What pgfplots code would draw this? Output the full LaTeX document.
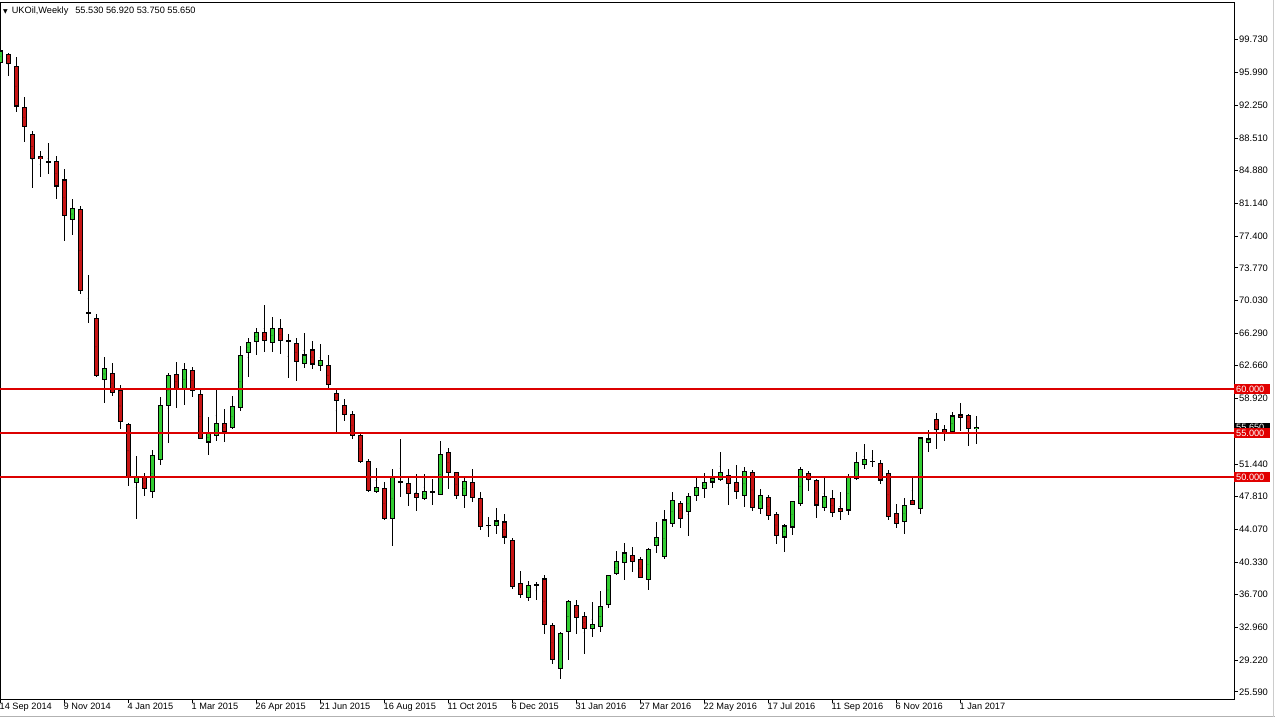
\documentclass[border=0pt]{standalone}
\usepackage{pgfplots}
\pgfplotsset{compat=1.18}
\usepackage{pgfplotstable}
\usepackage{fontspec}
\setmainfont{Liberation Sans}
\newfontfamily\symfont{DejaVu Sans}
\definecolor{bullc}{RGB}{50,205,50}
\definecolor{bearc}{RGB}{200,20,20}
\definecolor{lvl}{RGB}{220,0,0}
\definecolor{lvlbox}{RGB}{225,0,0}

\pgfplotstableread{
k o h l c
-1 97.15 98.60 96.90 98.40
8 79.25 81.64 77.52 80.52
12 61.05 63.67 58.42 62.36
16 49.37 52.44 45.25 49.93
18 48.39 53.11 47.57 52.44
19 51.99 59.10 51.39 58.13
20 58.13 61.79 53.86 61.50
22 60.04 62.92 58.13 62.18
25 53.98 56.85 52.47 55.05
26 54.76 59.85 54.04 56.11
28 55.66 59.26 55.44 58.02
29 57.91 64.91 57.46 63.75
30 64.20 65.84 61.35 65.32
31 65.43 66.89 63.82 66.44
33 65.28 68.16 64.15 66.89
37 62.92 66.40 62.40 63.86
39 62.63 65.16 62.02 63.22
46 48.31 51.06 48.17 48.76
48 45.25 50.94 42.18 49.93
52 47.57 50.30 47.38 48.39
54 48.02 54.12 48.00 52.55
57 47.91 50.00 46.45 49.48
61 44.50 46.45 43.48 44.99
65 36.34 38.14 35.96 37.69
69 28.21 32.33 27.08 32.22
70 32.41 36.07 29.22 35.89
73 32.81 35.81 31.85 33.23
74 33.04 37.01 32.41 35.25
75 35.51 38.88 35.06 38.81
76 39.07 41.57 38.88 40.38
77 40.27 42.55 38.32 41.35
80 38.40 41.95 37.19 41.73
81 42.25 44.88 41.32 43.08
82 40.95 46.26 40.68 45.10
83 44.76 48.31 44.32 47.35
85 46.11 48.17 43.26 47.80
86 47.87 49.85 47.30 48.81
87 48.70 50.49 47.57 49.37
88 49.44 50.86 48.70 49.82
89 49.71 52.85 49.60 50.49
92 47.87 51.17 46.60 50.61
94 46.45 48.62 45.81 47.87
97 43.19 44.69 41.51 44.43
98 44.32 47.30 43.37 47.19
99 47.04 51.17 46.74 50.86
102 46.56 50.11 46.18 47.80
105 46.26 50.30 45.70 50.00
106 49.82 52.85 49.66 51.62
107 51.43 53.75 50.94 51.99
112 44.95 47.57 43.56 46.74
114 46.45 54.53 45.81 54.42
115 53.98 55.36 52.81 54.31
118 55.17 57.35 54.99 56.93
121 55.53 56.92 53.75 55.65
}\bulltab

\pgfplotstableread{
k o h l c
0 98.04 98.15 95.61 97.00
1 96.66 97.74 91.49 92.17
2 91.94 93.18 88.12 89.81
3 88.94 89.36 82.80 86.17
4 86.44 86.99 84.04 86.17
5 85.88 87.93 84.48 85.80
6 85.88 86.44 81.56 83.07
7 83.74 85.01 76.78 79.70
9 80.37 80.82 70.78 71.16
10 68.70 72.96 67.52 68.62
11 68.02 68.47 61.35 61.54
13 61.73 63.00 59.18 59.59
14 59.85 60.41 55.44 56.29
15 55.92 56.11 48.92 50.04
17 49.93 50.41 47.80 48.70
21 61.61 63.03 57.80 60.04
23 62.10 62.47 59.10 59.85
24 59.37 59.93 54.30 54.42
27 56.11 57.72 53.93 55.17
32 66.44 69.59 64.15 65.47
34 66.89 67.90 63.97 65.47
35 65.50 66.22 61.23 65.45
36 65.21 65.84 60.90 63.14
38 64.42 65.47 62.24 62.85
40 62.63 63.89 60.04 60.49
41 59.48 59.96 55.05 58.69
42 58.13 58.81 56.40 57.12
43 57.12 57.49 54.31 54.68
44 54.68 54.91 51.60 51.73
45 51.73 51.99 48.30 48.43
47 48.70 49.44 45.06 45.25
49 49.48 54.31 47.69 49.40
50 49.29 50.00 46.74 48.13
51 48.13 50.30 46.18 47.69
53 48.32 49.82 46.82 48.26
55 52.74 53.30 48.62 50.49
56 50.49 50.60 47.49 47.87
58 49.37 50.94 47.19 47.69
59 47.57 48.35 43.93 44.43
60 44.52 45.44 43.19 44.46
62 44.88 45.81 42.33 43.19
63 42.74 43.08 37.31 37.53
64 37.91 39.33 36.26 36.63
66 37.72 38.06 36.07 37.66
67 38.40 38.88 32.14 33.26
68 33.08 33.37 28.77 29.22
71 35.44 36.00 32.14 34.09
72 34.09 34.69 29.89 32.81
78 41.06 42.07 39.18 40.38
79 40.64 40.95 38.50 38.62
84 47.01 47.30 44.20 45.33
90 50.19 50.86 46.85 49.26
91 49.37 51.31 47.49 48.35
93 50.49 50.75 46.18 46.56
95 47.69 47.94 45.14 45.62
96 45.70 46.00 42.44 43.37
100 50.41 50.67 48.43 49.74
101 49.55 49.74 45.33 46.82
103 47.57 48.54 45.44 45.99
104 46.45 48.24 45.06 46.11
108 51.80 53.11 51.17 51.75
109 51.50 51.91 49.26 49.66
110 50.38 50.75 45.06 45.55
111 45.85 46.93 44.20 44.69
113 47.30 50.04 46.80 46.85
116 56.56 57.30 53.19 55.36
117 55.44 55.92 54.04 54.99
119 57.04 58.36 55.28 56.78
120 57.00 57.15 53.48 55.55
}\beartab

\pgfplotstableread{
x y
-2 60
160 60
nan nan
-2 55
160 55
nan nan
-2 50
160 50
}\levtab

\pgfplotsset{
  wick/.style={only marks, mark=*, mark size=0.01pt, mark options={draw=none, fill=none}, forget plot,
    error bars/.cd, y dir=both, y explicit, error mark=none,
    error bar style={draw=black, line width=1pt}},
  bodyout/.style={only marks, mark=*, mark size=0.01pt, mark options={draw=none, fill=none}, forget plot,
    error bars/.cd, y dir=both, y explicit, error mark=none,
    error bar style={draw=black, line width=5pt}},
  bodyin/.style={only marks, mark=*, mark size=0.01pt, mark options={draw=none, fill=none}, forget plot,
    error bars/.cd, y dir=both, y explicit, error mark=none,
    error bar style={draw=#1, line width=3pt}},
}

\begin{document}
\begin{tikzpicture}[font=\fontsize{9.2}{10}\selectfont]
\begin{axis}[
  at={(0pt,0pt)}, anchor=south west,
  scale only axis, width=1234pt, height=697pt,
  xmin=-1.0, xmax=153.25, ymin=24.773, ymax=103.977,
  axis line style={black, line width=0.9pt},
  xtick pos=left, ytick pos=right, tick align=outside,
  major tick length=4pt,
  tick style={black, line width=0.7pt},
  xtick={-1,7,...,119},
  xticklabels={14 Sep 2014, 9 Nov 2014, 4 Jan 2015, 1 Mar 2015, 26 Apr 2015, 21 Jun 2015, 16 Aug 2015, 11 Oct 2015, 6 Dec 2015, 31 Jan 2016, 27 Mar 2016, 22 May 2016, 17 Jul 2016, 11 Sep 2016, 6 Nov 2016, 1 Jan 2017},
  xticklabel style={anchor=north west, xshift=-1.5pt, yshift=1pt, inner sep=1pt},
  ytick={99.73,95.99,92.25,88.51,84.88,81.14,77.40,73.77,70.03,66.29,62.66,58.92,51.44,47.81,44.07,40.33,36.70,32.96,29.22,25.59},
  yticklabels={99.730,95.990,92.250,88.510,84.880,81.140,77.400,73.770,70.030,66.290,62.660,58.920,51.440,47.810,44.070,40.330,36.700,32.960,29.220,25.590},
  yticklabel pos=right,
  yticklabel style={anchor=west, inner sep=1pt, font=\fontsize{9.4}{10}\selectfont},
  clip mode=individual,
  unbounded coords=jump,
]
% wicks
\addplot[wick] table[x=k, y expr={(\thisrow{h}+\thisrow{l})/2}, y error expr={(\thisrow{h}-\thisrow{l})/2}] \bulltab;
\addplot[wick] table[x=k, y expr={(\thisrow{h}+\thisrow{l})/2}, y error expr={(\thisrow{h}-\thisrow{l})/2}] \beartab;
% bodies
\addplot[bodyout] table[x=k, y expr={(\thisrow{o}+\thisrow{c})/2}, y error expr={abs(\thisrow{c}-\thisrow{o})/2+0.07}] \bulltab;
\addplot[bodyin=bullc] table[x=k, y expr={(\thisrow{o}+\thisrow{c})/2}, y error expr={max(abs(\thisrow{c}-\thisrow{o})/2-0.056,0)}] \bulltab;
\addplot[bodyout] table[x=k, y expr={(\thisrow{o}+\thisrow{c})/2}, y error expr={abs(\thisrow{c}-\thisrow{o})/2+0.07}] \beartab;
\addplot[bodyin=bearc] table[x=k, y expr={(\thisrow{o}+\thisrow{c})/2}, y error expr={max(abs(\thisrow{c}-\thisrow{o})/2-0.056,0)}] \beartab;
% levels (one plot, three separate segments)
\addplot[color=lvl, line width=1.5pt, mark=none, forget plot] table[x=x, y=y] \levtab;
% price labels
\node[anchor=west, fill=black, text=white, inner xsep=2pt, inner ysep=0pt, minimum height=9.5pt, text width=32pt] at (axis cs:153.25,55.65) {55.650};
\node[anchor=west, fill=lvlbox, text=white, inner xsep=2pt, inner ysep=0pt, minimum height=9.5pt, text width=32pt] at (axis cs:153.25,60) {60.000};
\node[anchor=west, fill=lvlbox, text=white, inner xsep=2pt, inner ysep=0pt, minimum height=9.5pt, text width=32pt] at (axis cs:153.25,55) {55.000};
\node[anchor=west, fill=lvlbox, text=white, inner xsep=2pt, inner ysep=0pt, minimum height=9.5pt, text width=32pt] at (axis cs:153.25,50) {50.000};
\end{axis}
\node[anchor=west, inner sep=0pt] at (3pt,688pt) {{\symfont\fontsize{6}{6}\selectfont ▼}\hspace{4pt}UKOil,Weekly\hspace{7pt}55.530 56.920 53.750 55.650};
\draw[gray!60, line width=1pt] (0pt,-18pt) -- (1275pt,-18pt);
\draw[gray!40, line width=1pt] (1273.5pt,-18pt) -- (1273.5pt,699pt);
\pgfresetboundingbox
\path[use as bounding box] (0pt,-23pt) rectangle (1275pt,699pt);
\end{tikzpicture}
\end{document}
